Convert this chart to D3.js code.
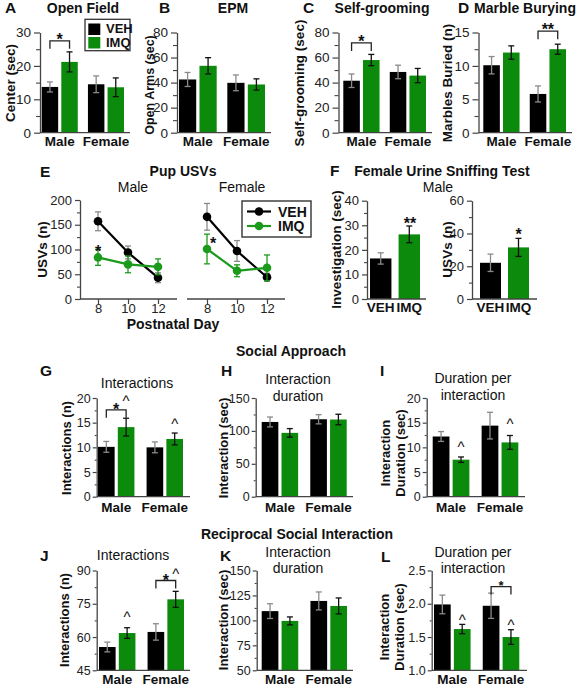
<!DOCTYPE html>
<html>
<head>
<meta charset="utf-8">
<script src="https://cdn.jsdelivr.net/npm/d3@7"></script>
<style>
body { margin: 0; background: #fff; }
svg { display: block; font-family: "Liberation Sans", Arial, sans-serif; }
</style>
</head>
<body>
<svg width="580" height="685"></svg>
<script>
// ---- data (4-value arrays: Male VEH, Male IMQ, Female VEH, Female IMQ) ----
const sexes = ["Male", "Female"];
const treatments = ["VEH", "IMQ"];

const openFieldMean = [13.7, 21.2, 14.5, 13.6];
const openFieldSem = [1.5, 3.0, 2.5, 2.8];
const epmMean = [42.5, 53.4, 39.8, 38.5];
const epmSem = [5.6, 6.5, 6.3, 4.5];
const groomMean = [41.5, 58.0, 48.5, 45.6];
const groomSem = [5.4, 4.5, 5.4, 5.7];
const marbleMean = [10.1, 12.0, 5.8, 12.5];
const marbleSem = [1.3, 1.0, 1.2, 0.75];

const pupDays = [8, 10, 12];
const usvMaleVeh = [157, 94, 43];
const usvMaleVehSem = [19, 13, 10];
const usvMaleImq = [84, 70, 65];
const usvMaleImqSem = [16, 17, 16];
const usvFemaleVeh = [166, 97, 44];
const usvFemaleVehSem = [27, 21, 8];
const usvFemaleImq = [101, 57, 63];
const usvFemaleImqSem = [30, 12, 26];

const urineInvestMean = [16.5, 26.3];
const urineInvestSem = [2.3, 3.4];
const urineUsvMean = [22.1, 31.5];
const urineUsvSem = [5.3, 5.5];

const saInterMean = [10.1, 14.1, 10.0, 11.7];
const saInterSem = [1.1, 1.8, 1.1, 1.2];
const saDurMean = [113.6, 97.0, 117.7, 117.3];
const saDurSem = [7.5, 6.5, 7.0, 8.0];
const saPerMean = [12.2, 7.5, 14.4, 11.0];
const saPerSem = [1.0, 0.55, 2.7, 1.4];

const rsiInterMean = [55.5, 61.8, 62.3, 77.0];
const rsiInterSem = [2.2, 2.4, 3.7, 3.6];
const rsiDurMean = [109.3, 99.5, 119.5, 114.5];
const rsiDurSem = [7.4, 4.0, 9.0, 8.0];
const rsiPerMean = [1.99, 1.62, 1.97, 1.50];
const rsiPerSem = [0.14, 0.07, 0.19, 0.11];

// ---- style ----
const FILL = { VEH: "#000000", IMQ: "#0b8a0b" };
const ERR = { VEH: "#8a8a8a", IMQ: "#111111" };
const AX = "#444";
const FONT = "Liberation Sans, Arial, sans-serif";
const svg = d3.select("svg");

function txt(x, y, s, size, weight, anchor) {
  return svg.append("text").attr("x", x).attr("y", y).text(s)
    .attr("font-size", size).attr("font-weight", weight || "normal")
    .attr("text-anchor", anchor || "middle").attr("fill", "#111");
}
function ylab(x, cy, s, size) {
  svg.append("text").attr("transform", `translate(${x},${cy}) rotate(-90)`)
    .attr("text-anchor", "middle").attr("dominant-baseline", "central")
    .attr("font-size", size || 13.5).attr("font-weight", "bold").attr("fill", "#111").text(s);
}
// star / caret centred visually on (x, cy)
function mark(x, cy, s, size) {
  const caret = s.startsWith("^");
  svg.append("text").attr("x", x).attr("y", cy + size * (caret ? 0.52 : 0.575))
    .attr("text-anchor", "middle").attr("font-size", size)
    .attr("font-weight", caret ? "normal" : "bold").attr("fill", "#111").text(s);
}

// t: { size, len, pad }
function yAxis(x, y, major, minor, fmt, t) {
  const a = svg.append("g").attr("transform", `translate(${x},0)`)
    .call(d3.axisLeft(y).tickValues(major).tickSize(t.len).tickSizeOuter(0)
      .tickPadding(t.pad).tickFormat(fmt));
  a.select(".domain").attr("stroke", AX).attr("stroke-width", 1.3);
  a.selectAll(".tick line").attr("stroke", AX).attr("stroke-width", 1.2);
  a.selectAll(".tick text").attr("font-size", t.size).attr("fill", "#222").attr("font-family", FONT);
  if (minor) {
    const m = svg.append("g").attr("transform", `translate(${x},0)`)
      .call(d3.axisLeft(y).tickValues(minor).tickSize(t.len - 2).tickFormat(""));
    m.select(".domain").remove();
    m.selectAll(".tick line").attr("stroke", AX).attr("stroke-width", 1.1);
  }
}

function errBar(g, x, y0, y1, col) {
  g.append("line").attr("x1", x).attr("x2", x).attr("y1", y0).attr("y2", y1)
    .attr("stroke", col).attr("stroke-width", 1.3);
  [y0, y1].forEach(v => g.append("line").attr("x1", x - 3).attr("x2", x + 3)
    .attr("y1", v).attr("y2", v).attr("stroke", col).attr("stroke-width", 1.3));
}

function barPanel(o) {
  const y = d3.scaleLinear().domain(o.domain).range([o.bottom, o.top]);
  const cats = o.nested ? sexes : treatments;
  const xo = d3.scaleBand().domain(cats).range(o.bars).paddingInner(o.pad);
  const xi = d3.scaleBand().domain(treatments).range([0, xo.bandwidth()]).paddingInner(0.16);
  const rows = o.mean.map((m, i) => o.nested
    ? { grp: sexes[Math.floor(i / 2)], trt: treatments[i % 2], m, e: o.sem[i] }
    : { grp: treatments[i], trt: treatments[i], m, e: o.sem[i] });
  const bx = d => o.nested ? xo(d.grp) + xi(d.trt) : xo(d.grp);
  const bw = o.nested ? xi.bandwidth() : xo.bandwidth();
  const cx = i => bx(rows[i]) + bw / 2;

  const g = svg.append("g");
  g.selectAll("rect").data(rows).join("rect")
    .attr("x", bx).attr("width", bw)
    .attr("y", d => y(d.m)).attr("height", d => y(o.domain[0]) - y(d.m))
    .attr("fill", d => FILL[d.trt]);
  rows.forEach(d => errBar(g, bx(d) + bw / 2, y(d.m - d.e), y(d.m + d.e), ERR[d.trt]));

  yAxis(o.axisX, y, o.major, o.minor, o.fmt || d3.format("d"), o.tick);
  svg.append("line").attr("x1", o.axisX).attr("x2", o.axisEnd)
    .attr("y1", o.bottom).attr("y2", o.bottom).attr("stroke", AX).attr("stroke-width", 1.3);

  cats.forEach(c => txt(xo(c) + xo.bandwidth() / 2, o.catY, c, 13.5, "bold"));

  (o.brackets || []).forEach(b => {
    const x1 = cx(b.a), x2 = cx(b.b), yt = y(b.y);
    svg.append("path").attr("d", `M${x1},${yt + 8}V${yt}H${x2}V${yt + 8}`)
      .attr("fill", "none").attr("stroke", "#222").attr("stroke-width", 1.3);
    mark((x1 + x2) / 2, yt - (b.gap || 5), b.s, b.size || 16);
  });
  (o.carets || []).forEach(c => mark(cx(c.i), y(c.y), "^", 15));
}

// ---------------- row 1 ----------------
const t1 = { size: 13.5, len: 6, pad: 3 };
const r1 = { top: 32.5, bottom: 132.7, pad: 0.22, nested: true, catY: 145.5, tick: t1 };
barPanel(Object.assign({}, r1, { axisX: 40, axisEnd: 130, bars: [41.7, 124], domain: [0, 30],
  major: [0, 10, 20, 30], minor: [5, 15, 25], mean: openFieldMean, sem: openFieldSem,
  brackets: [{ a: 0, b: 1, y: 27.5, s: "*" }] }));
barPanel(Object.assign({}, r1, { axisX: 177, axisEnd: 271, bars: [179, 265], domain: [0, 80],
  major: [0, 20, 40, 60, 80], minor: [10, 30, 50, 70], mean: epmMean, sem: epmSem }));
barPanel(Object.assign({}, r1, { axisX: 338.5, axisEnd: 432, bars: [343.3, 426], domain: [0, 80],
  major: [0, 20, 40, 60, 80], minor: [10, 30, 50, 70], mean: groomMean, sem: groomSem,
  brackets: [{ a: 0, b: 1, y: 71.7, s: "*" }] }));
barPanel(Object.assign({}, r1, { axisX: 478.5, axisEnd: 572, bars: [483.3, 566], domain: [0, 15],
  major: [0, 5, 10, 15], minor: [2.5, 7.5, 12.5], mean: marbleMean, sem: marbleSem,
  brackets: [{ a: 2, b: 3, y: 15.2, s: "**" }] }));

txt(5, 12.7, "A", 15.5, "bold", "start");
txt(83, 12.7, "Open Field", 14, "bold");
txt(159, 12.7, "B", 15.5, "bold", "start");
txt(233, 12.7, "EPM", 14, "bold");
txt(303, 12.7, "C", 15.5, "bold", "start");
txt(382, 12.7, "Self-grooming", 14, "bold");
txt(458, 12.7, "D", 15.5, "bold", "start");
txt(525, 12.7, "Marble Burying", 14, "bold");
ylab(10, 83, "Center (sec)");
ylab(150, 85, "Open Arms (sec)", 12.5);
ylab(299, 83, "Self-grooming (sec)");
ylab(447, 83, "Marbles Buried (n)");

// legend A
svg.append("rect").attr("x", 85).attr("y", 19.3).attr("width", 45).attr("height", 31.4)
  .attr("fill", "#fff").attr("stroke", "#333").attr("stroke-width", 1.3);
treatments.forEach((t, i) => {
  svg.append("rect").attr("x", 88.3).attr("y", 23.5 + i * 13.5).attr("width", 12).attr("height", 11.5)
    .attr("fill", FILL[t]);
  txt(106, 33 + i * 14, t, 13, "bold", "start");
});

// ---------------- row E: pup USVs ----------------
const t2 = { size: 13, len: 5, pad: 3 };
const yU = d3.scaleLinear().domain([0, 200]).range([299, 200]);
const xMale = d3.scaleLinear().domain([8, 12]).range([98, 158]);
const xFemale = d3.scaleLinear().domain([8, 12]).range([207, 267]);
yAxis(80, yU, [0, 50, 100, 150, 200], [25, 75, 125, 175], d3.format("d"), t2);

function xDayAxis(x, l, r) {
  svg.append("line").attr("x1", l).attr("x2", r).attr("y1", 299).attr("y2", 299)
    .attr("stroke", AX).attr("stroke-width", 1.3);
  const a = svg.append("g").attr("transform", "translate(0,299)")
    .call(d3.axisBottom(x).tickValues(pupDays).tickSize(5).tickSizeOuter(0)
      .tickPadding(0).tickFormat(d3.format("d")));
  a.select(".domain").remove();
  a.selectAll(".tick line").attr("stroke", AX).attr("stroke-width", 1.2);
  a.selectAll(".tick text").attr("font-size", 13).attr("fill", "#222").attr("font-family", FONT);
}
xDayAxis(xMale, 80, 177);
xDayAxis(xFemale, 187, 285);

const usvSeries = [
  { x: xMale, v: usvMaleVeh, e: usvMaleVehSem, t: "VEH" },
  { x: xMale, v: usvMaleImq, e: usvMaleImqSem, t: "IMQ" },
  { x: xFemale, v: usvFemaleVeh, e: usvFemaleVehSem, t: "VEH" },
  { x: xFemale, v: usvFemaleImq, e: usvFemaleImqSem, t: "IMQ" }
];
const lineCol = { VEH: "#000", IMQ: "#1b9a1b" };
const errCol = { VEH: "#8a8a8a", IMQ: "#1b9a1b" };
usvSeries.forEach(s => {
  const g = svg.append("g");
  const pts = pupDays.map((d, i) => ({ d, v: s.v[i], e: s.e[i] }));
  pts.forEach(p => errBar(g, s.x(p.d), yU(p.v - p.e), yU(p.v + p.e), errCol[s.t]));
  g.append("path").datum(pts)
    .attr("d", d3.line().x(p => s.x(p.d)).y(p => yU(p.v)))
    .attr("fill", "none").attr("stroke", lineCol[s.t]).attr("stroke-width", 2.2);
  g.selectAll("circle").data(pts).join("circle")
    .attr("cx", p => s.x(p.d)).attr("cy", p => yU(p.v)).attr("r", 4.3).attr("fill", lineCol[s.t]);
});
mark(xMale(8), yU(104), "*", 16);
mark(xFemale(8) + 6, yU(119), "*", 16);

txt(40, 176.5, "E", 15.5, "bold", "start");
txt(183, 176, "Pup USVs", 14, "bold");
txt(133, 191.5, "Male", 14);
txt(242, 191.5, "Female", 14);
txt(173, 329, "Postnatal Day", 14, "bold");
ylab(42, 249.5, "USVs (n)");

// legend E
svg.append("rect").attr("x", 242).attr("y", 201).attr("width", 69).attr("height", 36)
  .attr("fill", "#fff").attr("stroke", "#333").attr("stroke-width", 1.4);
treatments.forEach((t, i) => {
  const ly = 211.5 + i * 14.5;
  svg.append("line").attr("x1", 247).attr("x2", 271).attr("y1", ly).attr("y2", ly)
    .attr("stroke", lineCol[t]).attr("stroke-width", 2.2);
  svg.append("circle").attr("cx", 259).attr("cy", ly).attr("r", 4.3).attr("fill", lineCol[t]);
  txt(278, ly + 5, t, 14, "bold", "start");
});

// ---------------- row F: urine sniffing ----------------
const rF = { top: 200.7, bottom: 299, pad: 0.25, nested: false, catY: 312, tick: t2 };
barPanel(Object.assign({}, rF, { axisX: 367, axisEnd: 426, bars: [370, 420], domain: [0, 40],
  major: [0, 10, 20, 30, 40], minor: [5, 15, 25, 35], mean: urineInvestMean, sem: urineInvestSem }));
barPanel(Object.assign({}, rF, { axisX: 472, axisEnd: 537, bars: [480, 529], domain: [0, 60],
  major: [0, 20, 40, 60], minor: [10, 30, 50], mean: urineUsvMean, sem: urineUsvSem }));
mark(410, 220, "**", 16);
mark(518.5, 230.7, "*", 16);
txt(330, 176, "F", 15.5, "bold", "start");
txt(442, 176, "Female Urine Sniffing Test", 14, "bold");
txt(438, 191.5, "Male", 14);
ylab(336, 249.5, "Investigation (sec)");
ylab(447, 249.5, "USVs (n)");

// ---------------- row G-I: social approach ----------------
const t3 = { size: 12.5, len: 4, pad: 2 };
txt(291, 356, "Social Approach", 14, "bold");
const rG = { top: 398, bottom: 496.7, pad: 0.25, nested: true, catY: 511.5, tick: t3 };
barPanel(Object.assign({}, rG, { axisX: 96.7, axisEnd: 190, bars: [98, 183], domain: [0, 20],
  major: [0, 5, 10, 15, 20], minor: [2.5, 7.5, 12.5, 17.5], mean: saInterMean, sem: saInterSem,
  brackets: [{ a: 0, b: 1, y: 17.6, s: "*", gap: 4 }],
  carets: [{ i: 1, y: 20 }, { i: 3, y: 15.2 }] }));
barPanel(Object.assign({}, rG, { axisX: 255.7, axisEnd: 353, bars: [261.7, 346.7], domain: [0, 150],
  major: [0, 50, 100, 150], minor: [25, 75, 125], mean: saDurMean, sem: saDurSem }));
barPanel(Object.assign({}, rG, { axisX: 426.7, axisEnd: 525, bars: [432.7, 518.3], domain: [0, 20],
  major: [0, 5, 10, 15, 20], minor: [2.5, 7.5, 12.5, 17.5], mean: saPerMean, sem: saPerSem,
  carets: [{ i: 1, y: 10.6 }, { i: 3, y: 15.3 }] }));
txt(40, 376, "G", 15.5, "bold", "start");
txt(137, 388, "Interactions", 14);
txt(221, 376, "H", 15.5, "bold", "start");
txt(298, 383.5, "Interaction", 14);
txt(298, 400.5, "duration", 14);
txt(380, 376, "I", 15.5, "bold", "start");
txt(473, 382.5, "Duration per", 14);
txt(473, 400, "interaction", 14);
ylab(66, 448, "Interactions (n)", 13);
ylab(223, 448, "Interaction (sec)", 13);
ylab(385, 453, "Interaction", 13);
ylab(400, 453, "Duration (sec)", 13);

// ---------------- row J-L: reciprocal social interaction ----------------
txt(297, 539, "Reciprocal Social Interaction", 14, "bold");
const rJ = { top: 570.5, bottom: 670.3, pad: 0.25, nested: true, catY: 683.5, tick: t3 };
barPanel(Object.assign({}, rJ, { axisX: 96.7, axisEnd: 190, bars: [99, 184], domain: [45, 90],
  major: [45, 60, 75, 90], minor: [52.5, 67.5, 82.5], mean: rsiInterMean, sem: rsiInterSem,
  brackets: [{ a: 2, b: 3, y: 85.5, s: "*", gap: 3.5 }],
  carets: [{ i: 1, y: 70.5 }, { i: 3, y: 89.5 }] }));
barPanel(Object.assign({}, rJ, { axisX: 256.7, axisEnd: 353, bars: [261.7, 347], domain: [50, 150],
  major: [50, 75, 100, 125, 150], minor: [62.5, 87.5, 112.5, 137.5], mean: rsiDurMean, sem: rsiDurSem }));
barPanel(Object.assign({}, rJ, { axisX: 431.7, axisEnd: 527, bars: [434, 519.3], domain: [1.0, 2.5],
  major: [1.0, 1.5, 2.0, 2.5], minor: [1.25, 1.75, 2.25], fmt: d3.format(".1f"),
  mean: rsiPerMean, sem: rsiPerSem,
  brackets: [{ a: 2, b: 3, y: 2.258, s: "*", gap: 4, size: 13 }],
  carets: [{ i: 1, y: 1.805 }, { i: 3, y: 1.73 }] }));
txt(40, 560.5, "J", 15.5, "bold", "start");
txt(133, 560, "Interactions", 14);
txt(220, 560.5, "K", 15.5, "bold", "start");
txt(298, 556.7, "Interaction", 14);
txt(298, 573, "duration", 14);
txt(381, 561.5, "L", 15.5, "bold", "start");
txt(473, 556.5, "Duration per", 14);
txt(473, 573, "interaction", 14);
ylab(64, 620, "Interactions (n)", 13);
ylab(223, 620, "Interaction (sec)", 13);
ylab(384, 627, "Interaction", 13);
ylab(399, 627, "Duration (sec)", 13);
</script>
</body>
</html>
